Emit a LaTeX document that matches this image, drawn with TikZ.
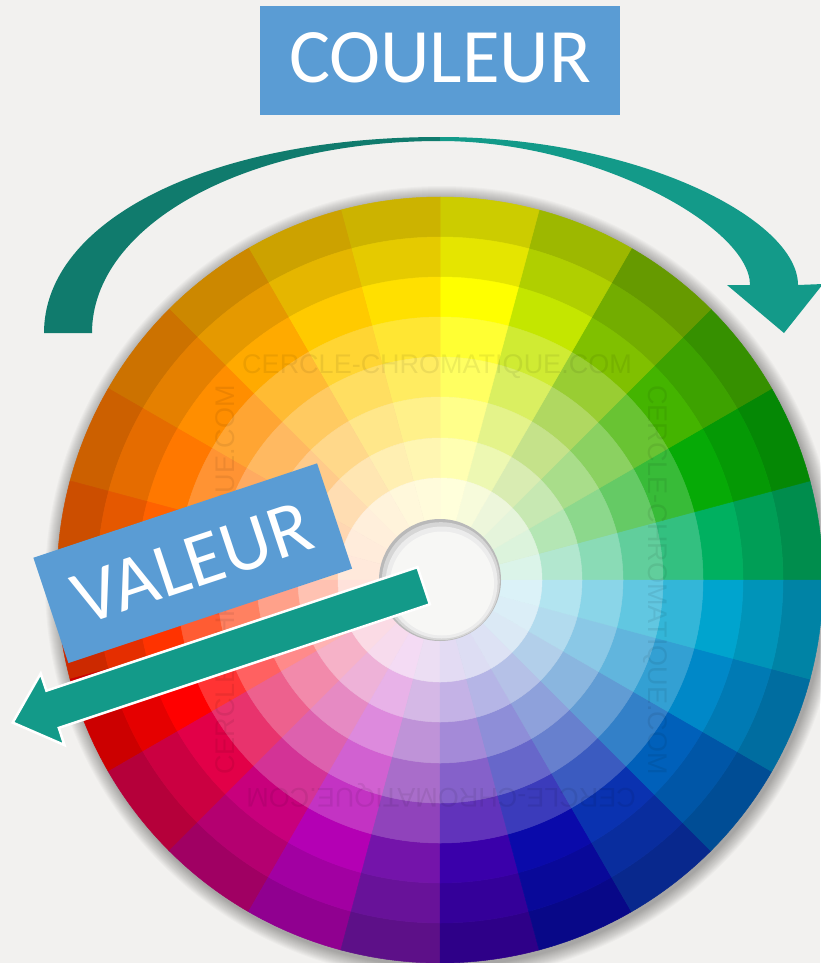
\documentclass[tikz,border=0pt]{standalone}
\usepackage{fontspec}
\newfontfamily\carlito{Carlito}
\newfontfamily\wmfont{Liberation Sans}
\definecolor{bg}{HTML}{F2F1EF}
\definecolor{boxblue}{HTML}{5A9CD4}
\definecolor{tealdark}{HTML}{107B6D}
\definecolor{teallight}{HTML}{139A89}
\definecolor{s0}{HTML}{00B060}
\definecolor{s1}{HTML}{06AA06}
\definecolor{s2}{HTML}{44B400}
\definecolor{s3}{HTML}{80C000}
\definecolor{s4}{HTML}{C4E600}
\definecolor{s5}{HTML}{FFFF00}
\definecolor{s6}{HTML}{FFE000}
\definecolor{s7}{HTML}{FFCA00}
\definecolor{s8}{HTML}{FFAA00}
\definecolor{s9}{HTML}{FF8E00}
\definecolor{s10}{HTML}{FF7800}
\definecolor{s11}{HTML}{FF6200}
\definecolor{s12}{HTML}{FF3300}
\definecolor{s13}{HTML}{FF0000}
\definecolor{s14}{HTML}{E20048}
\definecolor{s15}{HTML}{C8007C}
\definecolor{s16}{HTML}{B400B4}
\definecolor{s17}{HTML}{7414AA}
\definecolor{s18}{HTML}{3A00AA}
\definecolor{s19}{HTML}{0A0AAA}
\definecolor{s20}{HTML}{0A32B0}
\definecolor{s21}{HTML}{0060BA}
\definecolor{s22}{HTML}{0088C8}
\definecolor{s23}{HTML}{00A4CE}
\tikzset{
  labelbox/.style={fill=boxblue, inner sep=0pt},
  labeltext/.style={text=white, inner sep=0pt, font=\carlito\fontsize{77}{77}\selectfont},
  wm/.style={text=black, opacity=0.07, inner sep=0pt, font=\wmfont\fontsize{27}{27}\selectfont}
}
\begin{document}
\begin{tikzpicture}[x=1pt,y=-1pt]
\useasboundingbox (0,0) rectangle (820,963);
\fill[bg] (0,0) rectangle (820,963);

% soft shadow of the wheel
\begin{scope}[shift={(442,583)}]
  \foreach \k in {14,13,...,1} {
    \pgfmathsetmacro\rr{383+\k}
    \fill[black,opacity=0.022] (0,0) circle[radius=\rr pt];
  }
\end{scope}

% colour wheel
\begin{scope}[shift={(440,580)}]
  \foreach \i in {0,...,23} {
    \pgfmathsetmacro\a{15*\i}
    \pgfmathsetmacro\b{15*\i+15}
    \foreach \ro/\ri/\mix in {383/343/!80!black, 343/303/!90!black, 303/263/!100,
        263/223/!80!white, 223/183/!62!white, 183/142/!46!white,
        142/102/!30!white, 102/60/!14!white} {
      \fill[fill=s\i\mix, draw=s\i\mix, line width=0.5pt]
        (\a:\ro pt) arc[start angle=\a, end angle=\b, radius=\ro pt]
        -- (\b:\ri pt) arc[start angle=\b, end angle=\a, radius=\ri pt] -- cycle;
    }
  }
  % hole
  \fill[gray!55] (0,0) circle[radius=61pt];
  \begin{scope}
    \clip (0,0) circle[radius=61pt];
    \fill[gray!32] (0.8pt,-1.2pt) circle[radius=59pt];
    \fill[gray!15] (1.6pt,-2.5pt) circle[radius=56pt];
    \fill[bg!60!white] (2pt,-3.5pt) circle[radius=52pt];
  \end{scope}
\end{scope}

% faint watermark
\node[wm] (wmtop) at (437,367) {CERCLE-CHROMATIQUE.COM};
\node[wm, rotate=-90] (wmright) at (655,580) {CERCLE-CHROMATIQUE.COM};
\node[wm, rotate=180] (wmbottom) at (441,795) {CERCLE-CHROMATIQUE.COM};
\node[wm, rotate=90] (wmleft) at (228,580) {CERCLE-CHROMATIQUE.COM};

% curved arrow (COULEUR)
\fill[tealdark] (44,333) .. controls (44,220) and (210,137) .. (440,137)
  -- (440,141) .. controls (245,141) and (92,225) .. (92,333) -- cycle;
\fill[teallight] (440,137) .. controls (637,137) and (798,219) .. (798,285)
  -- (823,284) -- (784,333) -- (727,285) -- (750,285)
  .. controls (750,227) and (595,141) .. (440,141) -- cycle;

% COULEUR label
\node[labelbox, minimum width=360pt, minimum height=109pt] (couleurbox) at (440,60.5) {};
\node[labeltext] (couleur) at (440,58) {COULEUR};

% VALEUR label
\node[labelbox, rotate=18.4, minimum width=299pt, minimum height=111pt] (valeurbox) at (192.75,563.2) {};
\node[labeltext, rotate=18.4] (valeur) at (192.75,563.2) {VALEUR};

% straight arrow (VALEUR)
\fill[teallight, draw=white, line width=2.5pt, line join=miter]
  (417.5,567.1) -- (46.4,690.7) -- (40.7,673.5) -- (12.7,722.6)
  -- (64.5,745.1) -- (58.8,727.9) -- (429.9,604.3) -- cycle;
\end{tikzpicture}
\end{document}
